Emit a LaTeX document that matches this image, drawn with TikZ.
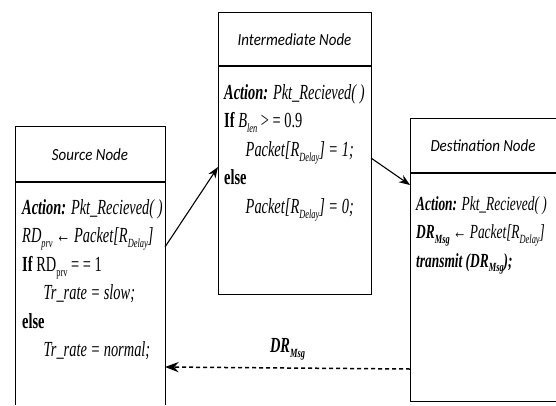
\documentclass[tikz,border=0pt]{standalone}
\usepackage{fontspec}
\setmainfont{Liberation Serif}[FakeStretch=0.67]
\newfontfamily\headfont{Carlito}[FakeStretch=0.88]
\usetikzlibrary{arrows.meta}
\newcommand{\sub}[1]{\raisebox{-0.5ex}{\fontsize{12.5}{12.5}\selectfont #1}}

\begin{document}
\begin{tikzpicture}[x=1pt, y=-1pt, >={Stealth[scale=1.4]},
    head/.style={font=\headfont\itshape\fontsize{17}{17}\selectfont},
    body/.style={anchor=north west, align=left, inner sep=0pt,
                 font=\fontsize{21.5}{28.5}\selectfont}]
      \useasboundingbox (0, 0) rectangle (556, 405);
      % boxes
      \draw[line width=0.9pt] (15, 405) -- (15, 126) -- (165, 126) -- (165, 405);
      \draw[line width=1.3pt] (15, 182) -- (165, 182);
      \draw[line width=0.9pt] (218, 12) rectangle (371, 294);
      \draw[line width=1.3pt] (218, 66) -- (371, 66);
      \draw[line width=0.9pt] (556, 118) -- (410, 118) -- (410, 401) -- (556, 401);
      \draw[line width=1.3pt] (410, 173) -- (556, 173);
      % titles
      \node[head] (srctitle) at (90, 155) {Source Node};
      \node[head] (midtitle) at (294.5, 40) {Intermediate Node};
      \node[head] (dsttitle) at (483, 146) {Destination Node};
      % texts
      \node[body] (srctext) at (22, 199) {%
        \textbf{\textit{Action:}} \textit{Pkt\_Recieved( )}\\
        \textit{RD\sub{prv} ← Packet[R\sub{Delay}]}\\
        \textbf{If} RD\sub{prv} = = 1\\
        \hspace{1em}\textit{Tr\_rate = slow;}\\
        \textbf{else}\\
        \hspace{1em}\textit{Tr\_rate = normal;}};
      \node[body] (midtext) at (224, 84) {%
        \textbf{\textit{Action:}} \textit{Pkt\_Recieved( )}\\
        \textbf{If} \textit{B\sub{len}} > = 0.9\\
        \hspace{1em}\textit{Packet[R\sub{Delay}] = 1;}\\
        \textbf{else}\\
        \hspace{1em}\textit{Packet[R\sub{Delay}] = 0;}};
      \node[body, font=\fontsize{20}{28.5}\selectfont] (dsttext) at (416, 196) {%
        \textbf{\textit{Action:}} \textit{Pkt\_Recieved( )}\\
        \textbf{\textit{DR\sub{Msg}}} \textit{← Packet[R\sub{Delay}]}\\
        \textbf{\textit{transmit (DR\sub{Msg});}}};
      % connectors
      \coordinate (srcout) at (165, 247);
      \coordinate (midin) at (218, 167);
      \coordinate (midout) at (371, 158);
      \coordinate (dstin) at (410, 185);
      \coordinate (dstout) at (410, 369);
      \coordinate (srcin) at (165, 367);
      \draw[line width=1.1pt, ->] (srcout) -- (midin);
      \draw[line width=1.1pt, ->] (midout) -- (dstin);
      \draw[line width=1.5pt, dash pattern=on 4pt off 3pt, ->] (dstout) -- node[above=4pt, font=\fontsize{21.5}{21.5}\selectfont] (msg) {\textbf{\textit{DR\sub{Msg}}}} (srcin);
    \end{tikzpicture}
\end{document}
